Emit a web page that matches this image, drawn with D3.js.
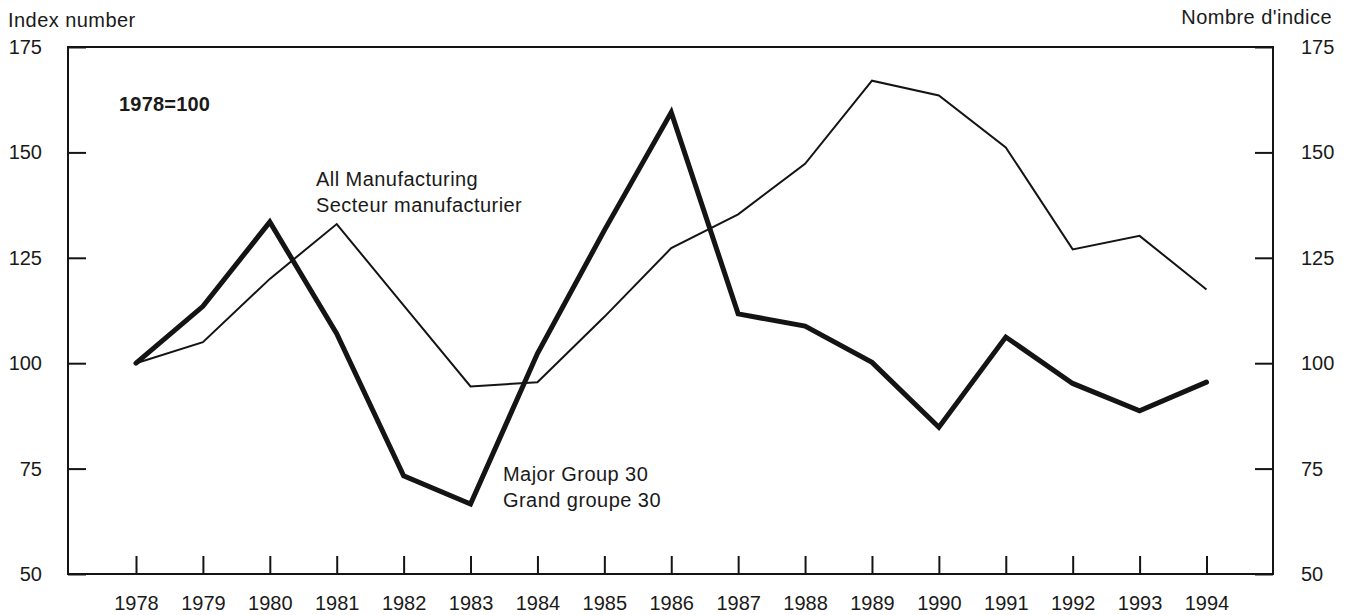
<!DOCTYPE html>
<html>
<head>
<meta charset="utf-8">
<script src="https://cdn.jsdelivr.net/npm/d3@7/dist/d3.min.js"></script>
<style>
  html, body { margin: 0; padding: 0; background: #ffffff; }
  svg { display: block; }
  text { font-family: "Liberation Sans", Arial, Helvetica, sans-serif; fill: #1a1a1a; }
</style>
</head>
<body>
<svg id="chart" width="1348" height="615"></svg>
<script>
// ---- data ----
const years = [1978, 1979, 1980, 1981, 1982, 1983, 1984, 1985, 1986, 1987, 1988, 1989, 1990, 1991, 1992, 1993, 1994];
const allManufacturing = [100, 105, 120, 133, 113.7, 94.5, 95.5, 111, 127.3, 135.3, 147.3, 167, 163.5, 151.2, 127, 130.2, 117.5];
const majorGroup30 = [100, 113.5, 133.5, 107, 73.3, 66.6, 102.3, 131.5, 159.5, 111.7, 108.8, 100.2, 84.8, 106.2, 95.2, 88.7, 95.5];
const yTicks = [50, 75, 100, 125, 150, 175];
const leftTitle = "Index number";
const rightTitle = "Nombre d'indice";
const baseLabel = "1978=100";
const labelAll = ["All Manufacturing", "Secteur manufacturier"];
const labelGroup = ["Major Group 30", "Grand groupe 30"];

// ---- layout ----
const svg = d3.select("#chart");
const plot = { left: 68, right: 1273, top: 47, bottom: 574 };
const ink = "#141414";

const x = d3.scaleLinear().domain([1978, 1994]).range([136, 1206.5]);
const y = d3.scaleLinear().domain([50, 175]).range([plot.bottom, plot.top]);

// frame
svg.append("rect")
  .attr("x", plot.left).attr("y", plot.top)
  .attr("width", plot.right - plot.left).attr("height", plot.bottom - plot.top)
  .attr("fill", "none").attr("stroke", ink).attr("stroke-width", 2);

// left axis
const gl = svg.append("g").attr("transform", `translate(${plot.left},0)`)
  .call(d3.axisLeft(y).tickValues(yTicks).tickSizeInner(-18).tickSizeOuter(0).tickPadding(26));
// right axis
const gr = svg.append("g").attr("transform", `translate(${plot.right},0)`)
  .call(d3.axisRight(y).tickValues(yTicks).tickSizeInner(-18).tickSizeOuter(0).tickPadding(28));
// bottom axis
const gb = svg.append("g").attr("transform", `translate(0,${plot.bottom})`)
  .call(d3.axisBottom(x).tickValues(years).tickFormat(d3.format("d")).tickSizeInner(-18).tickSizeOuter(0).tickPadding(22));

[gl, gr, gb].forEach(g => {
  g.select(".domain").remove();
  g.selectAll(".tick line").attr("stroke", ink).attr("stroke-width", 2);
  g.selectAll(".tick text")
    .style("font-family", '"Liberation Sans", Arial, Helvetica, sans-serif')
    .style("font-size", "20px").attr("fill", "#1a1a1a");
});

// lines
const line = d3.line().x((d, i) => x(years[i])).y(d => y(d));

svg.append("path").datum(allManufacturing)
  .attr("d", line).attr("fill", "none")
  .attr("stroke", ink).attr("stroke-width", 2)
  .attr("stroke-linejoin", "miter");

svg.append("path").datum(majorGroup30)
  .attr("d", line).attr("fill", "none")
  .attr("stroke", ink).attr("stroke-width", 5)
  .attr("stroke-linejoin", "miter").attr("stroke-miterlimit", 3).attr("stroke-linecap", "round");

// texts
function addText(str, tx, ty, opts = {}) {
  return svg.append("text")
    .attr("x", tx).attr("y", ty)
    .attr("text-anchor", opts.anchor || "start")
    .style("font-size", (opts.size || 20) + "px")
    .style("font-weight", opts.weight || "normal")
    .style("letter-spacing", (opts.ls != null ? opts.ls : 0.45) + "px")
    .text(str);
}

addText(leftTitle, 8, 27);
addText(rightTitle, 1332, 24, { anchor: "end" });
addText(baseLabel, 119, 111, { weight: "bold", ls: 0.2 });
addText(labelAll[0], 316, 186);
addText(labelAll[1], 316, 212);
addText(labelGroup[0], 503, 481);
addText(labelGroup[1], 503, 507);
</script>
</body>
</html>
